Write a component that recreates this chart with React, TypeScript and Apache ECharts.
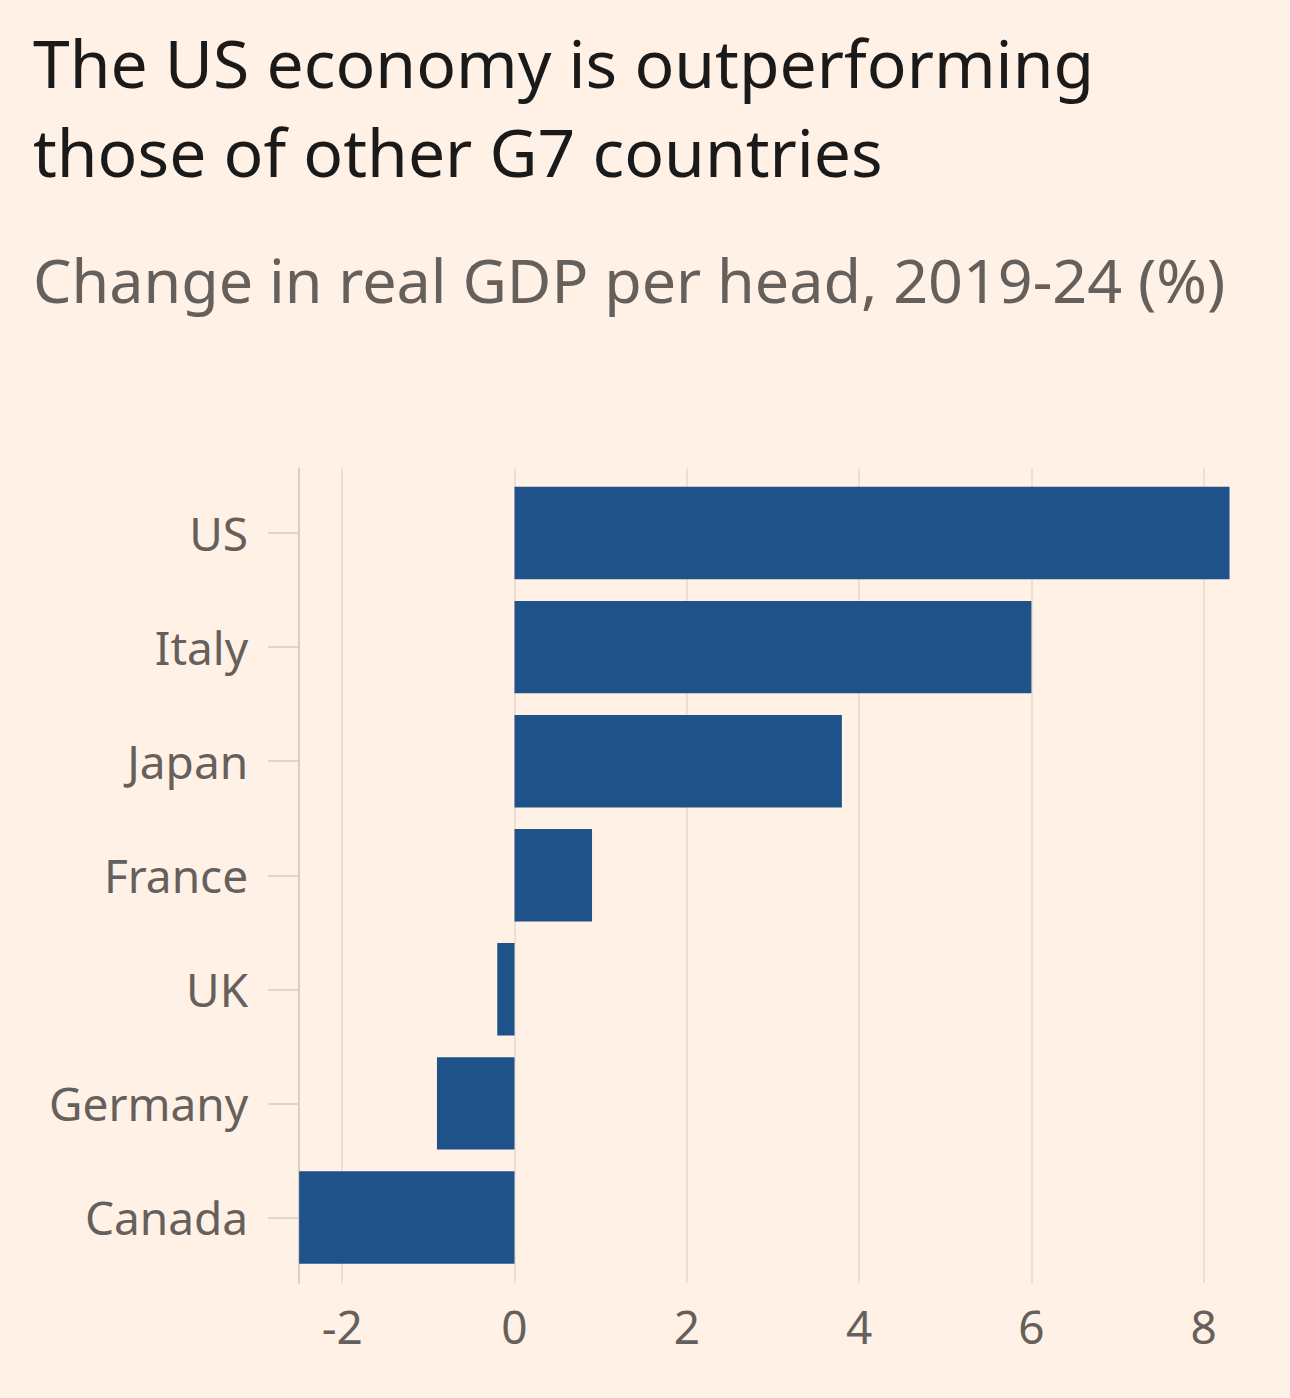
import React, { useEffect, useRef } from "react";
import * as echarts from "echarts";

const categories = ["US", "Italy", "Japan", "France", "UK", "Germany", "Canada"];
const values = [8.3, 6.0, 3.8, 0.9, -0.2, -0.9, -2.5];
const tickMin = -2;
const tickMax = 8;
const tickStep = 2;
const domainMin = -2.5;
const domainMax = 8.3;

const titleText = "The US economy is outperforming\nthose of other G7 countries";
const subtitleText = "Change in real GDP per head, 2019-24 (%)";

const FONT = "'Noto Sans', 'Open Sans', sans-serif";
const BG = "#FFF1E5";
const GREY = "#66605C";

export default function App() {
  const ref = useRef<HTMLDivElement>(null);
  useEffect(() => {
    if (!ref.current) return;
    const chart = echarts.init(ref.current, undefined, { renderer: "svg" });
    const W = 1290;
    const zeroX = 514.5;
    const u = 86.15;
    const g0Left = zeroX + tickMin * u;
    const g0Right = W - (zeroX + tickMax * u);
    const g1Left = zeroX + domainMin * u;
    const g1Right = W - (zeroX + domainMax * u);
    chart.setOption({
      animation: false,
      backgroundColor: BG,
      title: [
        {
          text: titleText,
          left: 33,
          top: 17,
          padding: 0,
          textStyle: { fontFamily: FONT, fontSize: 66, lineHeight: 89, fontWeight: "normal", color: "#1a1a1a" },
        },
        {
          text: subtitleText,
          left: 33,
          top: 243,
          padding: 0,
          textStyle: { fontFamily: FONT, fontSize: 61, lineHeight: 72, fontWeight: "normal", color: GREY },
        },
      ],
      grid: [
        { left: g0Left, right: g0Right, top: 468, height: 815 },
        { left: g1Left, right: g1Right, top: 476, height: 798.5 },
      ],
      xAxis: [
        {
          gridIndex: 0,
          type: "value",
          min: tickMin,
          max: tickMax,
          interval: tickStep,
          axisLine: { show: false, onZero: false },
          axisTick: { show: false },
          splitLine: { show: true, lineStyle: { color: "#E6D9CE", width: 1.5 } },
          axisLabel: { fontFamily: FONT, fontSize: 46, color: GREY, margin: 20 },
        },
        {
          gridIndex: 1,
          type: "value",
          min: domainMin,
          max: domainMax,
          show: false,
          axisLine: { onZero: false },
        },
      ],
      yAxis: [
        {
          gridIndex: 0,
          type: "value",
          position: "left",
          offset: g0Left - g1Left,
          axisLine: { show: true, onZero: false, lineStyle: { color: "#CEC3B9", width: 1.5 } },
          axisTick: { show: false },
          axisLabel: { show: false },
          splitLine: { show: false },
        },
        {
          gridIndex: 1,
          type: "category",
          data: categories,
          inverse: true,
          position: "left",
          axisLine: { show: false, onZero: false },
          axisTick: { show: true, alignWithLabel: true, length: 31, lineStyle: { color: "#D9CDC2", width: 1.5 } },
          axisLabel: { fontFamily: FONT, fontSize: 46, color: GREY, margin: 51 },
          splitLine: { show: false },
        },
      ],
      series: [
        {
          type: "bar",
          xAxisIndex: 1,
          yAxisIndex: 1,
          data: values,
          barCategoryGap: "19%",
          itemStyle: { color: "#20528A" },
        },
      ],
    });
    return () => chart.dispose();
  }, []);
  return <div ref={ref} style={{ position: "absolute", left: 0, top: 0, width: 1290, height: 1398 }} />;
}
